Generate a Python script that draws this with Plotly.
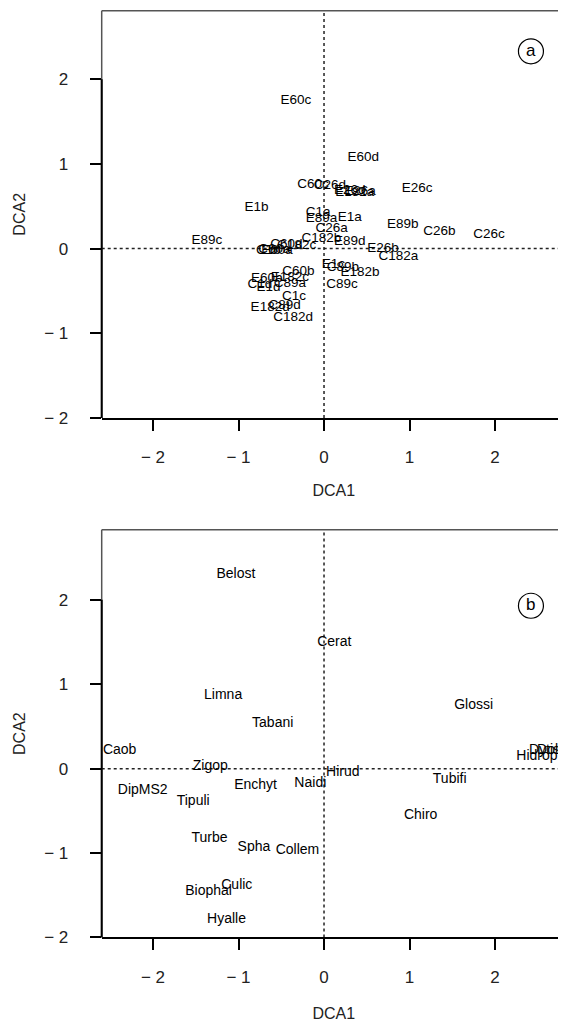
import plotly.graph_objects as go

# ---------- Panel (a): sites ----------
site_labels = ["E1a", "E1b", "E1c", "E1d", "E26a", "E26b", "E26c", "E26d",
               "E60a", "E60b", "E60c", "E60d", "E89a", "E89b", "E89c", "E89d",
               "E182a", "E182b", "E182c", "E182d",
               "C1a", "C1b", "C1c", "C1d", "C26a", "C26b", "C26c", "C26d",
               "C60a", "C60b", "C60c", "C60d", "C89a", "C89b", "C89c", "C89d",
               "C182a", "C182b", "C182c", "C182d"]
site_dca1 = [0.30, -0.79, 0.11, -0.65, 0.42, 0.69, 1.09, 0.30,
             -0.55, -0.67, -0.33, 0.46, -0.03, 0.92, -1.37, 0.30,
             0.36, 0.42, -0.40, -0.63,
             -0.07, -0.65, -0.35, -0.75, 0.09, 1.35, 1.93, 0.07,
             -0.58, -0.30, -0.13, -0.44, -0.40, 0.22, 0.21, -0.46,
             0.87, -0.03, -0.32, -0.36]
site_dca2 = [0.36, 0.48, -0.19, -0.46, 0.67, 0.00, 0.71, 0.69,
             -0.02, -0.36, 1.75, 1.08, 0.35, 0.28, 0.09, 0.08,
             0.66, -0.28, -0.34, -0.70,
             0.43, -0.02, -0.57, -0.43, 0.24, 0.20, 0.17, 0.74,
             -0.01, -0.27, 0.76, 0.05, -0.41, -0.22, -0.42, -0.67,
             -0.10, 0.12, 0.03, -0.82]

# ---------- Panel (b): taxa ----------
taxa_labels = ["Belost", "Cerat", "Limna", "Tabani", "Glossi", "Caob", "Zigop",
               "Hirud", "DipMS2", "Enchyt", "Naidi", "Tipuli", "Tubifi", "Chiro",
               "Turbe", "Spha", "Collem", "Culic", "Biophal", "Hyalle",
               "Hidrop", "Dytisc", "Dolich"]
taxa_dca1 = [-1.03, 0.12, -1.18, -0.60, 1.75, -2.39, -1.33,
             0.22, -2.12, -0.80, -0.16, -1.53, 1.47, 1.13,
             -1.34, -0.82, -0.31, -1.02, -1.35, -1.14,
             2.49, 2.62, 2.72]
taxa_dca2 = [2.30, 1.49, 0.87, 0.54, 0.75, 0.21, 0.03,
             -0.04, -0.26, -0.20, -0.17, -0.39, -0.13, -0.56,
             -0.83, -0.94, -0.97, -1.38, -1.45, -1.79,
             0.15, 0.22, 0.22]

tick_vals = [-2, -1, 0, 1, 2]
tick_text = ["\u2212 2", "\u2212 1", "0", "1", "2"]
x_range = [-2.6, 2.83]
ya_range = [-2.0, 2.81]
yb_range = [-2.0, 2.83]

FONT = "Liberation Sans, Arial, sans-serif"

# the page has an 8px body margin: lay out in a smaller figure offset by 8px
W, H, OFF = 558, 1016, 8

fig = go.Figure()
fig.add_trace(go.Scatter(x=site_dca1, y=site_dca2, text=site_labels, mode="text",
                         textposition="middle center",
                         textfont=dict(family=FONT, size=13.5, color="black"),
                         xaxis="x", yaxis="y", hoverinfo="text", showlegend=False))
fig.add_trace(go.Scatter(x=taxa_dca1, y=taxa_dca2, text=taxa_labels, mode="text",
                         textposition="middle center",
                         textfont=dict(family=FONT, size=14, color="black"),
                         xaxis="x2", yaxis="y2", hoverinfo="text", showlegend=False))

xdom = [(101.7 - OFF) / W, 1.0]
ya_dom = [1 - (422 - OFF) / H, 1 - (10.7 - OFF) / H]
yb_dom = [1 - (946.7 - OFF) / H, 1 - (535 - OFF) / H]

def xaxis(dom, anchor, standoff):
    return dict(domain=dom, anchor=anchor, range=x_range, tickvals=tick_vals,
                ticktext=tick_text, ticks="outside", ticklen=11, tickwidth=1.5,
                tickcolor="black", showline=True, linecolor="black", linewidth=1.5,
                showgrid=False, zeroline=False, ticklabelstandoff=12,
                tickfont=dict(family=FONT, size=17, color="#222"),
                title=dict(text="DCA1", font=dict(family=FONT, size=16, color="#222"),
                           standoff=standoff))

def yaxis(dom, rng, anchor):
    return dict(domain=dom, anchor=anchor, range=rng, tickvals=tick_vals,
                ticktext=tick_text, ticks="outside", ticklen=11, tickwidth=1.5,
                tickcolor="black", showline=False,
                showgrid=False, zeroline=False, ticklabelstandoff=18,
                tickfont=dict(family=FONT, size=17, color="#222"),
                title=dict(text="DCA2", font=dict(family=FONT, size=16, color="#222"),
                           standoff=14))

fig.update_layout(
    width=W, height=H,
    margin=dict(l=0, r=0, t=0, b=0),
    paper_bgcolor="white", plot_bgcolor="white",
    xaxis=xaxis(xdom, "y", 19), yaxis=yaxis(ya_dom, ya_range, "x"),
    xaxis2=xaxis(xdom, "y2", 22), yaxis2=yaxis(yb_dom, yb_range, "x2"),
)

shapes = []
for xr, yr in (("x", "y"), ("x2", "y2")):
    # dotted reference lines at 0
    shapes.append(dict(type="line", xref=xr, yref=yr + " domain", x0=0, x1=0, y0=0, y1=1,
                       line=dict(color="#222", width=1.5, dash="dot"), layer="below"))
    shapes.append(dict(type="line", xref=xr + " domain", yref=yr, x0=0, x1=1, y0=0, y1=0,
                       line=dict(color="#222", width=1.5, dash="dot"), layer="below"))
    # box: gray top and left, black axis segment on left between -2 and 2
    shapes.append(dict(type="line", xref=xr + " domain", yref=yr + " domain",
                       x0=0, x1=1, y0=1, y1=1, line=dict(color="#555", width=1.5)))
    shapes.append(dict(type="line", xref=xr + " domain", yref=yr + " domain",
                       x0=0, x1=0, y0=0, y1=1, line=dict(color="#555", width=1.5)))
    shapes.append(dict(type="line", xref=xr + " domain", yref=yr,
                       x0=0, x1=0, y0=-2, y1=2, line=dict(color="black", width=2)))

# circled panel letters
panel_letters = ["a", "b"]
panel_pos = [(2.42, 2.33), (2.42, 1.93)]
for (xr, yr), letter, (px, py) in zip((("x", "y"), ("x2", "y2")), panel_letters, panel_pos):
    shapes.append(dict(type="circle", xref=xr, yref=yr, xsizemode="pixel", ysizemode="pixel",
                       xanchor=px, yanchor=py, x0=-12.5, x1=12.5, y0=-12.5, y1=12.5,
                       line=dict(color="black", width=1.2)))
    fig.add_annotation(x=px, y=py, xref=xr, yref=yr, text=letter, showarrow=False,
                       font=dict(family=FONT, size=17, color="black"), yshift=1)

fig.update_layout(shapes=shapes)
fig.write_html("out.html")
